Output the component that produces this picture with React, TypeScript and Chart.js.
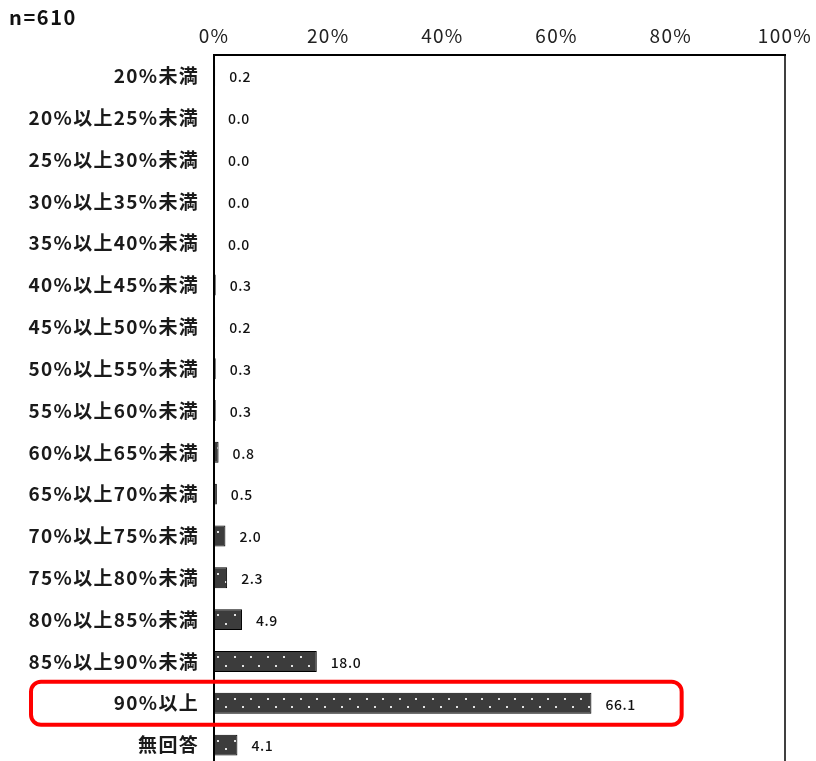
import React, { useEffect, useRef } from "react";
import { Chart, registerables } from "chart.js";

Chart.register(...registerables);

// Share of respondents (%) by band
const categories = [
  "20%未満",
  "20%以上25%未満",
  "25%以上30%未満",
  "30%以上35%未満",
  "35%以上40%未満",
  "40%以上45%未満",
  "45%以上50%未満",
  "50%以上55%未満",
  "55%以上60%未満",
  "60%以上65%未満",
  "65%以上70%未満",
  "70%以上75%未満",
  "75%以上80%未満",
  "80%以上85%未満",
  "85%以上90%未満",
  "90%以上",
  "無回答",
];
const shares = [0.2, 0.0, 0.0, 0.0, 0.0, 0.3, 0.2, 0.3, 0.3, 0.8, 0.5, 2.0, 2.3, 4.9, 18.0, 66.1, 4.1];
const axisMax = 100;
const axisStep = 20;
const sampleLabel = "n=610";
const highlightedCategory = "90%以上";

const JP = "'Noto Sans CJK JP', 'Noto Sans', sans-serif";

// Wider tracking for the axis text, switched off again before the bars are drawn
const axisTracking = {
  id: "axisTracking",
  beforeDraw(chart: any) {
    chart.ctx.letterSpacing = "1.3px";
  },
  beforeDatasetsDraw(chart: any) {
    chart.ctx.letterSpacing = "0px";
  },
};

// White dot texture on each bar, aligned to the bar's own top-left corner
const dotTexture = {
  id: "dotTexture",
  afterDatasetsDraw(chart: any) {
    const ctx = chart.ctx;
    const meta = chart.getDatasetMeta(0);
    meta.data.forEach((bar: any) => {
      const { x, y, base, height } = bar.getProps(["x", "y", "base", "height"], true);
      const left = Math.min(x, base);
      const right = Math.max(x, base);
      const top = y - height / 2;
      if (right - left < 4) return;
      ctx.save();
      ctx.beginPath();
      ctx.rect(left + 1, top + 1, right - left - 2, height - 2);
      ctx.clip();
      ctx.fillStyle = "#e2e2e2";
      const rows = [
        { dy: height * 0.3, dx: 4 },
        { dy: height * 0.7, dx: 12 },
      ];
      rows.forEach((r) => {
        for (let px = left + r.dx; px < right; px += 16.5) {
          ctx.fillRect(Math.round(px) - 1, Math.round(top + r.dy) - 1, 2, 2);
        }
      });
      ctx.restore();
    });
  },
};

// Percentage printed next to each bar end
const valueLabels = {
  id: "valueLabels",
  afterDatasetsDraw(chart: any) {
    const ctx = chart.ctx;
    const meta = chart.getDatasetMeta(0);
    ctx.save();
    ctx.font = `500 14px ${JP}`;
    ctx.letterSpacing = "0.6px";
    ctx.fillStyle = "#111";
    ctx.textAlign = "left";
    ctx.textBaseline = "middle";
    meta.data.forEach((bar: any, i: number) => {
      const { x, y } = bar.getProps(["x", "y"], true);
      ctx.fillText(shares[i].toFixed(1), x + 14, y + 1);
    });
    ctx.restore();
  },
};

// Right edge of the plot frame, sample size and the highlight around one row
const frameAndNotes = {
  id: "frameAndNotes",
  afterDraw(chart: any) {
    const ctx = chart.ctx;
    const { top, bottom, right, left } = chart.chartArea;
    ctx.save();
    ctx.strokeStyle = "#000";
    ctx.lineWidth = 1.5;
    ctx.beginPath();
    ctx.moveTo(right, top);
    ctx.lineTo(right, bottom);
    ctx.stroke();

    ctx.font = `bold 20px ${JP}`;
    ctx.letterSpacing = "1.6px";
    ctx.fillStyle = "#111";
    ctx.textAlign = "left";
    ctx.textBaseline = "alphabetic";
    ctx.fillText(sampleLabel, 9, 25);

    const yScale = chart.scales.y;
    const xScale = chart.scales.x;
    const idx = categories.indexOf(highlightedCategory);
    const cy = yScale.getPixelForValue(idx);
    const x0 = left - 183;
    const x1 = xScale.getPixelForValue(81.9);
    const y0 = cy - 21.5;
    const y1 = cy + 21.5;
    ctx.strokeStyle = "#ff0000";
    ctx.lineWidth = 4;
    ctx.beginPath();
    ctx.roundRect(x0, y0, x1 - x0, y1 - y0, 10);
    ctx.stroke();
    ctx.restore();
  },
};

export default function App() {
  const canvasRef = useRef<HTMLCanvasElement | null>(null);

  useEffect(() => {
    if (!canvasRef.current) return;
    const chart = new Chart(canvasRef.current, {
      type: "bar",
      data: {
        labels: categories,
        datasets: [
          {
            data: shares,
            backgroundColor: "#3c3c3c",
            borderColor: "#000",
            borderWidth: 1,
            borderSkipped: false,
            barPercentage: 0.5,
            categoryPercentage: 1,
          },
        ],
      },
      options: {
        indexAxis: "y",
        responsive: false,
        animation: false,
        layout: { padding: { left: 0, top: 0, right: 31, bottom: 14 } },
        plugins: {
          legend: { display: false },
          tooltip: { enabled: false },
        },
        scales: {
          x: {
            position: "top",
            min: 0,
            max: axisMax,
            afterFit: (s: any) => {
              s.height = 55;
              s.paddingLeft = 0;
              s.paddingRight = 0;
            },
            ticks: {
              stepSize: axisStep,
              padding: 8,
              color: "#222",
              font: { family: JP, size: 19, weight: "normal" },
              callback: (v: any) => `${v}%`,
            },
            grid: { display: false, drawTicks: false },
            border: { display: true, color: "#000", width: 2 },
          },
          y: {
            afterFit: (s: any) => {
              s.width = 214;
              s.paddingTop = 0;
              s.paddingBottom = 0;
            },
            ticks: {
              padding: 15,
              color: "#1a1a1a",
              font: { family: JP, size: 19, weight: "bold" },
            },
            grid: { display: false, drawTicks: false },
            border: { display: true, color: "#000", width: 2 },
          },
        },
      },
      plugins: [axisTracking, dotTexture, valueLabels, frameAndNotes],
    });
    return () => chart.destroy();
  }, []);

  return (
    <div style={{ position: "absolute", left: 0, top: 0, width: 816, height: 780 }}>
      <canvas ref={canvasRef} width={816} height={780} />
    </div>
  );
}
